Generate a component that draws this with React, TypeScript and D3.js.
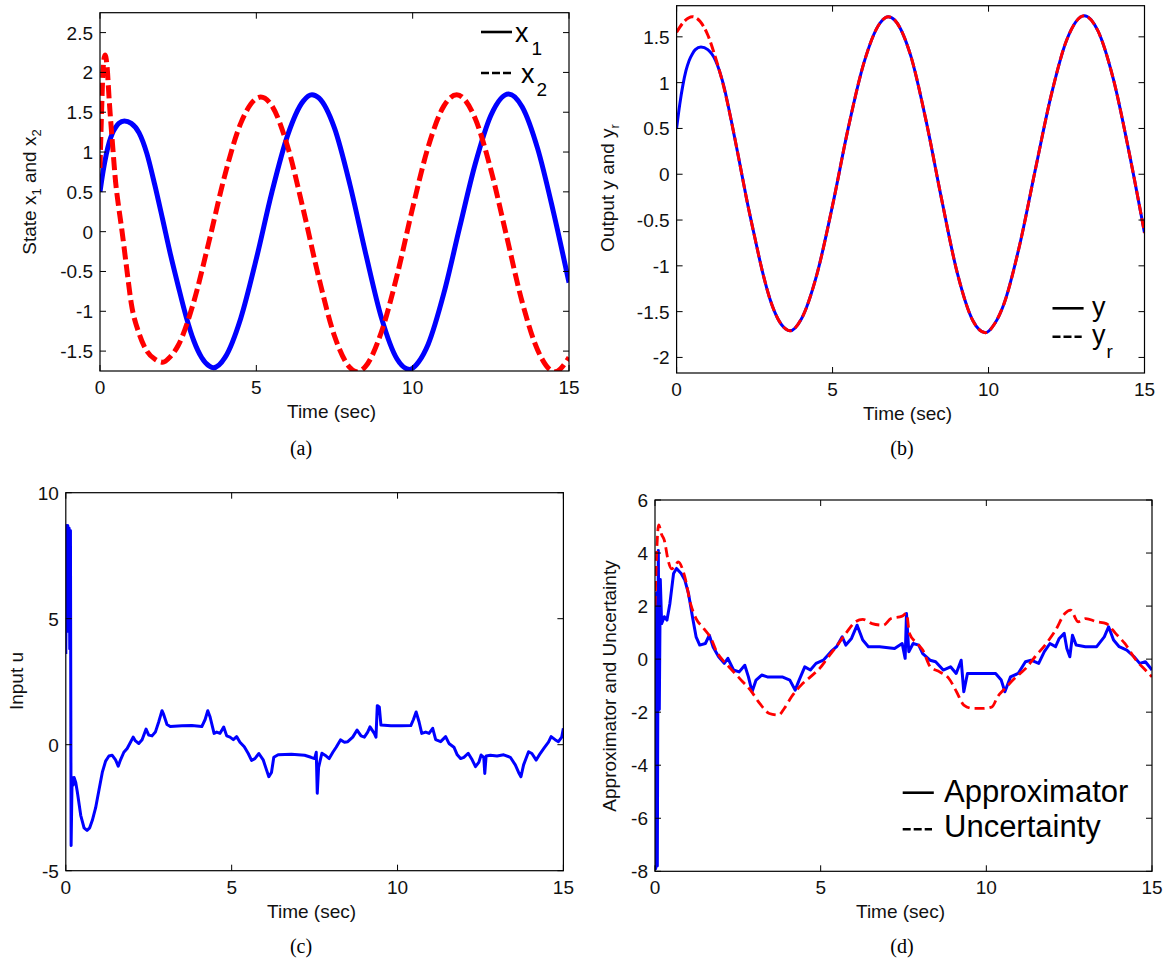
import * as d3 from "d3";

type Pt = [number, number];

const SANS = "'Liberation Sans', Arial, Helvetica, sans-serif";
const SERIF = "'Liberation Serif', 'Times New Roman', serif";

// tick values
const timeTicks = [0, 5, 10, 15];
const stateTicks = [-1.5, -1, -0.5, 0, 0.5, 1, 1.5, 2, 2.5];
const outputTicks = [-2, -1.5, -1, -0.5, 0, 0.5, 1, 1.5];
const inputTicks = [-5, 0, 5, 10];
const approxTicks = [-8, -6, -4, -2, 0, 2, 4, 6];

// state x1 (= output y)
const x1: Pt[] = [
  [0, 0.5], [0.1, 0.76], [0.2, 0.97], [0.3, 1.13], [0.4, 1.24], [0.5, 1.31], [0.6, 1.36],
  [0.78, 1.39], [1.0, 1.36], [1.25, 1.24], [1.5, 0.98], [1.75, 0.59], [2.0, 0.16], [2.25, -0.28],
  [2.5, -0.68], [2.75, -1.06], [3.0, -1.37], [3.25, -1.58], [3.5, -1.69], [3.63, -1.71], [4.0, -1.58],
  [4.5, -1.09], [5.0, -0.34], [5.5, 0.5], [6.0, 1.21], [6.5, 1.64], [6.78, 1.72], [7.0, 1.68],
  [7.5, 1.3], [8.0, 0.58], [8.5, -0.28], [9.0, -1.08], [9.5, -1.6], [9.9, -1.73], [10.2, -1.63],
  [10.5, -1.41], [11.0, -0.77], [11.5, 0.05], [12.0, 0.85], [12.5, 1.46], [13.07, 1.73], [13.5, 1.57],
  [14.0, 1.04], [14.5, 0.25], [15.0, -0.64],
];

// state x2
const x2: Pt[] = [
  [0, 0.8], [0.05, 1.5], [0.1, 2.05], [0.16, 2.22], [0.22, 2.1], [0.3, 1.62], [0.4, 1.1], [0.5, 0.62],
  [0.6, 0.3], [0.7, 0.02], [0.85, -0.45], [1.0, -0.9], [1.25, -1.28], [1.5, -1.5], [1.75, -1.6],
  [2.01, -1.64], [2.25, -1.57], [2.5, -1.43], [3.0, -0.88], [3.5, -0.1], [4.0, 0.72], [4.5, 1.36],
  [5.14, 1.69], [5.5, 1.58], [6.0, 1.07], [6.5, 0.28], [7.0, -0.58], [7.5, -1.31], [8.0, -1.71],
  [8.22, -1.76], [8.5, -1.69], [9.0, -1.26], [9.5, -0.55], [10.0, 0.3], [10.5, 1.07], [11.0, 1.58],
  [11.41, 1.72], [12.0, 1.42], [12.5, 0.78], [13.0, -0.05], [13.5, -0.88], [14.0, -1.49],
  [14.55, -1.76], [15.0, -1.58],
];

// reference output yr
const yr: Pt[] = [
  [0, 1.55], [0.25, 1.67], [0.5, 1.72], [0.75, 1.67], [1.0, 1.52], [1.25, 1.27], [1.5, 0.97],
  [1.75, 0.59], [2.0, 0.16], [2.25, -0.28], [2.5, -0.68], [2.75, -1.06], [3.0, -1.37], [3.25, -1.58],
  [3.5, -1.69], [3.63, -1.71], [4.0, -1.58], [4.5, -1.09], [5.0, -0.34], [5.5, 0.5], [6.0, 1.21],
  [6.5, 1.64], [6.78, 1.72], [7.0, 1.68], [7.5, 1.3], [8.0, 0.58], [8.5, -0.28], [9.0, -1.08],
  [9.5, -1.6], [9.9, -1.73], [10.2, -1.63], [10.5, -1.41], [11.0, -0.77], [11.5, 0.05], [12.0, 0.85],
  [12.5, 1.46], [13.07, 1.73], [13.5, 1.57], [14.0, 1.04], [14.5, 0.25], [15.0, -0.64],
];

// control input u
const u: Pt[] = [
  [0, 3.6], [0.02, 8.7], [0.04, 5.0], [0.06, 8.7], [0.08, 4.5], [0.1, 8.6], [0.12, 3.8], [0.14, 8.5],
  [0.16, -4.0], [0.19, -1.3], [0.22, -1.6], [0.25, -1.3], [0.3, -1.5], [0.35, -1.9], [0.45, -2.8],
  [0.55, -3.3], [0.64, -3.4], [0.72, -3.3], [0.8, -3.0], [0.9, -2.5], [1.0, -1.8], [1.1, -1.1],
  [1.2, -0.65], [1.3, -0.45], [1.4, -0.42], [1.5, -0.6], [1.58, -0.85], [1.65, -0.6], [1.75, -0.3],
  [1.85, -0.15], [1.95, 0.1], [2.03, 0.3], [2.1, 0.15], [2.2, 0.05], [2.3, 0.2], [2.42, 0.62],
  [2.5, 0.38], [2.6, 0.35], [2.7, 0.5], [2.8, 0.9], [2.9, 1.35], [2.95, 1.2], [3.05, 0.8], [3.15, 0.72],
  [3.5, 0.75], [3.8, 0.76], [4.1, 0.72], [4.2, 1.0], [4.28, 1.35], [4.35, 1.1], [4.47, 0.45],
  [4.55, 0.5], [4.65, 0.45], [4.76, 0.7], [4.85, 0.35], [4.95, 0.3], [5.05, 0.2], [5.15, 0.32],
  [5.25, 0.1], [5.38, -0.08], [5.5, -0.35], [5.6, -0.62], [5.7, -0.55], [5.82, -0.35], [5.95, -0.6],
  [6.05, -1.0], [6.12, -1.27], [6.2, -1.1], [6.27, -0.5], [6.4, -0.4], [6.8, -0.38], [7.2, -0.42],
  [7.39, -0.5], [7.5, -0.55], [7.55, -0.3], [7.58, -1.93], [7.62, -0.9], [7.72, -0.34], [7.85, -0.45],
  [7.94, -0.55], [8.05, -0.3], [8.15, -0.1], [8.28, 0.19], [8.4, 0.1], [8.5, 0.12], [8.65, 0.3],
  [8.78, 0.58], [8.9, 0.35], [9.0, 0.3], [9.1, 0.5], [9.17, 0.71], [9.3, 0.45], [9.35, 0.3],
  [9.39, 1.55], [9.45, 1.5], [9.5, 0.78], [9.8, 0.75], [10.1, 0.75], [10.4, 0.76], [10.48, 1.0],
  [10.56, 1.3], [10.65, 0.9], [10.73, 0.45], [10.85, 0.5], [10.95, 0.45], [11.06, 0.65], [11.15, 0.2],
  [11.3, 0.12], [11.45, 0.32], [11.55, 0.05], [11.7, -0.1], [11.8, -0.4], [11.9, -0.55], [12.0, -0.5],
  [12.13, -0.34], [12.25, -0.6], [12.35, -0.87], [12.45, -0.7], [12.52, -0.41], [12.6, -0.5],
  [12.63, -1.14], [12.67, -0.45], [12.8, -0.42], [13.0, -0.45], [13.2, -0.4], [13.4, -0.5],
  [13.55, -0.8], [13.65, -1.1], [13.72, -1.27], [13.8, -0.8], [13.95, -0.28], [14.05, -0.35],
  [14.18, -0.61], [14.3, -0.35], [14.41, -0.15], [14.55, 0.1], [14.63, 0.32], [14.75, 0.2],
  [14.85, 0.12], [14.95, 0.3], [15.0, 0.65],
];

// approximator output
const approximator: Pt[] = [
  [0, 0], [0.02, -7.9], [0.05, 2.5], [0.07, -7.8], [0.1, 4.1], [0.13, -1.9], [0.16, 3.0], [0.2, 1.34],
  [0.28, 1.6], [0.36, 1.47], [0.45, 2.1], [0.56, 3.23], [0.65, 3.42], [0.79, 3.23], [0.9, 2.98],
  [1.01, 2.48], [1.13, 1.6], [1.24, 0.84], [1.35, 0.53], [1.52, 0.59], [1.64, 0.9], [1.75, 0.47],
  [1.92, 0.09], [2.09, -0.16], [2.2, 0.03], [2.37, -0.41], [2.54, -0.48], [2.71, -0.23], [2.82, -0.67],
  [2.93, -1.23], [3.05, -0.79], [3.22, -0.6], [3.39, -0.67], [3.84, -0.67], [4.07, -0.79],
  [4.23, -1.17], [4.35, -0.79], [4.52, -0.29], [4.69, -0.41], [4.86, -0.16], [5.08, -0.04],
  [5.31, 0.28], [5.48, 0.47], [5.65, 0.84], [5.76, 0.53], [5.93, 0.78], [6.1, 1.28], [6.27, 0.72],
  [6.44, 0.47], [6.78, 0.47], [7.23, 0.4], [7.46, 0.59], [7.55, 0.03], [7.59, 1.72], [7.66, 0.28],
  [7.79, 0.59], [7.96, 0.53], [8.08, 0.21], [8.3, -0.04], [8.47, -0.1], [8.7, -0.41], [8.92, -0.29],
  [9.09, -0.54], [9.24, -0.04], [9.32, -1.23], [9.43, -0.54], [9.72, -0.54], [10.28, -0.54],
  [10.45, -0.79], [10.56, -1.23], [10.73, -0.67], [10.96, -0.54], [11.18, -0.1], [11.35, -0.04],
  [11.58, -0.16], [11.75, 0.28], [11.92, 0.59], [12.09, 0.47], [12.2, 0.78], [12.35, 0.97],
  [12.43, 0.4], [12.52, 0.09], [12.6, 0.9], [12.71, 0.53], [12.99, 0.47], [13.33, 0.47], [13.56, 0.84],
  [13.69, 1.22], [13.84, 0.72], [14.01, 0.47], [14.24, 0.34], [14.46, 0.09], [14.63, -0.16],
  [14.8, -0.1], [15, -0.41],
];

// uncertainty
const uncertainty: Pt[] = [
  [0, 2.0], [0.05, 4.0], [0.11, 5.06], [0.2, 4.7], [0.28, 4.49], [0.4, 3.7], [0.5, 3.4], [0.62, 3.55],
  [0.7, 3.67], [0.9, 3.1], [1.07, 2.1], [1.24, 1.53], [1.47, 1.16], [1.69, 0.78], [1.86, 0.28],
  [2.09, -0.1], [2.32, -0.41], [2.6, -0.79], [2.88, -1.17], [3.16, -1.67], [3.45, -2.05], [3.73, -2.11],
  [3.9, -1.86], [4.12, -1.42], [4.41, -0.98], [4.69, -0.67], [4.97, -0.35], [5.2, 0.03], [5.54, 0.59],
  [5.76, 0.97], [6.05, 1.41], [6.27, 1.5], [6.55, 1.34], [6.89, 1.28], [7.12, 1.53], [7.46, 1.62],
  [7.59, 1.72], [7.68, 0.97], [7.91, 0.59], [8.08, 0.34], [8.31, -0.29], [8.59, -0.48], [8.87, -0.73],
  [9.1, -1.23], [9.32, -1.73], [9.6, -1.86], [9.89, -1.86], [10.17, -1.8], [10.34, -1.42],
  [10.56, -1.11], [10.9, -0.67], [11.19, -0.35], [11.47, 0.09], [11.81, 0.59], [12.09, 1.09],
  [12.37, 1.72], [12.54, 1.85], [12.77, 1.41], [13.0, 1.53], [13.33, 1.41], [13.62, 1.34],
  [13.9, 0.97], [14.18, 0.59], [14.52, -0.04], [14.8, -0.41], [15, -0.67],
];

type Series = {
  pts: Pt[];
  color: string;
  width: number;
  dash?: string;
  smooth?: boolean;
};

type PanelProps = {
  id: string;
  left: number;
  right: number;
  top: number;
  bottom: number;
  yDomain: [number, number];
  yTicks: number[];
  series: Series[];
  caption: string;
  captionX: number;
  captionY: number;
  children?: any;
};

function Panel(p: PanelProps) {
  const x = d3.scaleLinear().domain([0, 15]).range([p.left, p.right]);
  const y = d3.scaleLinear().domain(p.yDomain).range([p.bottom, p.top]);
  const tick = 6;
  const fs = 19;

  return (
    <g>
      <defs>
        <clipPath id={p.id}>
          <rect x={p.left} y={p.top} width={p.right - p.left} height={p.bottom - p.top} />
        </clipPath>
      </defs>
      <g clipPath={`url(#${p.id})`}>
        {p.series.map((s, i) => {
          const line = d3
            .line<Pt>()
            .x((d) => x(d[0]))
            .y((d) => y(d[1]))
            .curve(s.smooth ? d3.curveMonotoneX : d3.curveLinear);
          return (
            <path
              key={i}
              d={line(s.pts) || ""}
              fill="none"
              stroke={s.color}
              strokeWidth={s.width}
              strokeDasharray={s.dash}
              strokeLinejoin="round"
            />
          );
        })}
      </g>
      <rect
        x={p.left}
        y={p.top}
        width={p.right - p.left}
        height={p.bottom - p.top}
        fill="none"
        stroke="#000"
        strokeWidth={1.2}
      />
      {timeTicks.map((t) => (
        <g key={"x" + t}>
          <line x1={x(t)} x2={x(t)} y1={p.bottom} y2={p.bottom - tick} stroke="#000" />
          <line x1={x(t)} x2={x(t)} y1={p.top} y2={p.top + tick} stroke="#000" />
          <text x={x(t)} y={p.bottom + 23} fontSize={fs} fontFamily={SANS} textAnchor="middle" fill="#111">
            {t}
          </text>
        </g>
      ))}
      {p.yTicks.map((v) => (
        <g key={"y" + v}>
          <line x1={p.left} x2={p.left + tick} y1={y(v)} y2={y(v)} stroke="#000" />
          <line x1={p.right} x2={p.right - tick} y1={y(v)} y2={y(v)} stroke="#000" />
          <text x={p.left - 7} y={y(v) + 7} fontSize={fs} fontFamily={SANS} textAnchor="end" fill="#111">
            {String(v)}
          </text>
        </g>
      ))}
      <text
        x={(p.left + p.right) / 2 - 3}
        y={p.bottom + 47}
        fontSize={fs}
        fontFamily={SANS}
        textAnchor="middle"
        fill="#111"
      >
        Time (sec)
      </text>
      <text x={p.captionX} y={p.captionY} fontSize={20} fontFamily={SERIF} textAnchor="middle" fill="#000">
        {p.caption}
      </text>
      {p.children}
    </g>
  );
}

function LegendLine({ x1, x2, y, dash }: { x1: number; x2: number; y: number; dash?: string }) {
  return <line x1={x1} x2={x2} y1={y} y2={y} stroke="#000" strokeWidth={2.6} strokeDasharray={dash} />;
}

export default function App() {
  const blue = "#0000ff";
  const red = "#ff0000";
  return (
    <div style={{ position: "absolute", left: 0, top: 0, background: "#fff" }}>
      <svg width={1167} height={958} viewBox="0 0 1167 958" style={{ display: "block" }}>
        <rect width={1167} height={958} fill="#fff" />

        {/* (a) states */}
        <Panel
          id="clipA"
          left={100}
          right={569}
          top={12.7}
          bottom={371}
          yDomain={[-1.75, 2.75]}
          yTicks={stateTicks}
          series={[
            { pts: x1, color: blue, width: 5, smooth: true },
            { pts: x2, color: red, width: 5, dash: "13,5", smooth: true },
          ]}
          caption="(a)"
          captionX={301}
          captionY={455}
        >
          <text transform="translate(36,192) rotate(-90)" fontSize={19} fontFamily={SANS} textAnchor="middle" fill="#111">
            State x<tspan dy={5} fontSize={13}>1</tspan>
            <tspan dy={-5}> and x</tspan>
            <tspan dy={5} fontSize={13}>2</tspan>
          </text>
          <LegendLine x1={481} x2={512} y={32} />
          <text x={515} y={42} fontSize={27} fontFamily={SANS} fill="#000">
            x<tspan dx={3} dy={13} fontSize={19}>1</tspan>
          </text>
          <LegendLine x1={481} x2={512} y={73} dash="8,3" />
          <text x={521} y={83} fontSize={27} fontFamily={SANS} fill="#000">
            x<tspan dx={2} dy={13} fontSize={19}>2</tspan>
          </text>
        </Panel>

        {/* (b) output tracking */}
        <Panel
          id="clipB"
          left={676.6}
          right={1144.5}
          top={5.7}
          bottom={373}
          yDomain={[-2.17, 1.84]}
          yTicks={outputTicks}
          series={[
            { pts: x1, color: blue, width: 3, smooth: true },
            { pts: yr, color: red, width: 3, dash: "10,4", smooth: true },
          ]}
          caption="(b)"
          captionX={902}
          captionY={455}
        >
          <text transform="translate(614,188) rotate(-90)" fontSize={19} fontFamily={SANS} textAnchor="middle" fill="#111">
            Output y and y<tspan dy={5} fontSize={13}>r</tspan>
          </text>
          <LegendLine x1={1052.5} x2={1083.6} y={308.3} />
          <text x={1092} y={316} fontSize={27} fontFamily={SANS} fill="#000">
            y
          </text>
          <LegendLine x1={1052.5} x2={1081.7} y={336.7} dash="8,3" />
          <text x={1092} y={344} fontSize={27} fontFamily={SANS} fill="#000">
            y<tspan dx={1} dy={14} fontSize={19}>r</tspan>
          </text>
        </Panel>

        {/* (c) control input */}
        <Panel
          id="clipC"
          left={65.8}
          right={563.4}
          top={492.7}
          bottom={870.7}
          yDomain={[-5, 10]}
          yTicks={inputTicks}
          series={[{ pts: u, color: blue, width: 3 }]}
          caption="(c)"
          captionX={301}
          captionY={953}
        >
          <text transform="translate(23,681) rotate(-90)" fontSize={19} fontFamily={SANS} textAnchor="middle" fill="#111">
            Input u
          </text>
        </Panel>

        {/* (d) approximator vs uncertainty */}
        <Panel
          id="clipD"
          left={655}
          right={1152}
          top={500}
          bottom={871.3}
          yDomain={[-8, 6]}
          yTicks={approxTicks}
          series={[
            { pts: approximator, color: blue, width: 3 },
            { pts: uncertainty, color: red, width: 2.8, dash: "10,5", smooth: true },
          ]}
          caption="(d)"
          captionX={902}
          captionY={953}
        >
          <text transform="translate(616,686) rotate(-90)" fontSize={19} fontFamily={SANS} textAnchor="middle" fill="#111">
            Approximator and Uncertainty
          </text>
          <LegendLine x1={902.7} x2={933.8} y={792.7} />
          <text x={944} y={801.7} fontSize={31} fontFamily={SANS} fill="#000">
            Approximator
          </text>
          <LegendLine x1={902.7} x2={932} y={829.3} dash="8,3" />
          <text x={944} y={837} fontSize={31} fontFamily={SANS} fill="#000">
            Uncertainty
          </text>
        </Panel>
      </svg>
    </div>
  );
}
